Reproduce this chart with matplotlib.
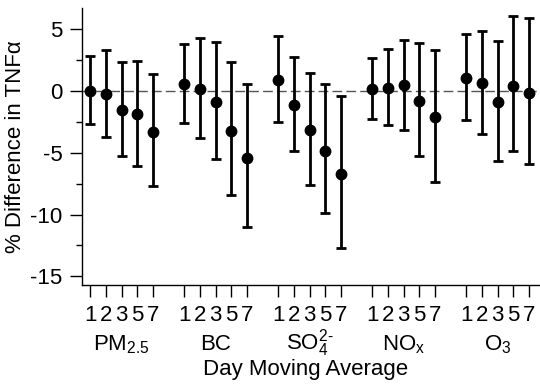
import numpy as np
import matplotlib.pyplot as plt
from matplotlib import transforms

plt.rcParams['font.family'] = ['Liberation Sans', 'DejaVu Sans']
plt.rcParams['mathtext.fontset'] = 'custom'
plt.rcParams['mathtext.rm'] = 'Liberation Sans'
plt.rcParams['mathtext.it'] = 'Liberation Sans'
plt.rcParams['axes.unicode_minus'] = False

# pollutants and day windows
groups = [r"PM$_{2.5}$", "BC", r"SO$_4^{2\text{-}}$", r"NO$_x$", r"O$_3$"]
days = ["1", "2", "3", "5", "7"]

est = [0.0, -0.27, -1.56, -1.86, -3.29,
       0.57, 0.13, -0.89, -3.26, -5.45,
       0.89, -1.13, -3.16, -4.88, -6.72,
       0.16, 0.27, 0.49, -0.78, -2.10,
       1.05, 0.67, -0.92, 0.40, -0.16]
upper = [2.83, 3.30, 2.37, 2.43, 1.38,
         3.78, 4.30, 3.96, 2.32, 0.54,
         4.47, 2.75, 1.48, 0.57, -0.40,
         2.67, 3.40, 4.13, 3.88, 3.32,
         4.64, 4.88, 4.07, 6.04, 5.93]
lower = [-2.67, -3.70, -5.30, -6.04, -7.70,
         -2.62, -3.78, -5.53, -8.39, -10.98,
         -2.51, -4.85, -7.60, -9.90, -12.73,
         -2.24, -2.78, -3.16, -5.26, -7.34,
         -2.35, -3.50, -5.69, -4.88, -5.93]

est = np.array(est)
upper = np.array(upper)
lower = np.array(lower)

x = np.array([g * 6 + d + 1 for g in range(len(groups)) for d in range(len(days))])

fig = plt.figure(figsize=(5.4, 3.88), dpi=100)
ax = fig.add_axes([0.151, 0.2655, 0.849, 0.7135])

ax.axhline(0, color='#555555', lw=1, ls=(0, (7, 3)), zorder=1)
ax.errorbar(x, est, yerr=[est - lower, upper - est], fmt='o', color='black',
            ms=7.5, elinewidth=2, capsize=3.4, capthick=2, zorder=3)

ax.set_xlim(0.45, 29.7)
ax.set_ylim(-15.7, 6.7)
ax.set_yticks([5, 0, -5, -10, -15])
ax.set_yticks([2.5, -2.5, -7.5, -12.5], minor=True)
ax.set_xticks(x)
ax.set_xticklabels(days * len(groups))

for s in ['top', 'right']:
    ax.spines[s].set_visible(False)
ax.spines['left'].set_linewidth(1)
ax.spines['bottom'].set_linewidth(1)

fs = 16
ax.tick_params(axis='y', which='major', length=8.6, width=1, labelsize=fs, pad=5)
ax.tick_params(axis='y', which='minor', length=4.3, width=1)
ax.tick_params(axis='x', length=8.6, width=1, labelsize=fs, pad=6)

trans = transforms.blended_transform_factory(ax.transData, ax.transAxes)
for i, g in enumerate(groups):
    ax.annotate(g, xy=(i * 6 + 3, 0), xycoords=trans, xytext=(0, -46.8),
                textcoords='offset points', ha='center', va='baseline',
                fontsize=fs, annotation_clip=False)

ax.annotate("Day Moving Average", xy=(0.5, 0), xycoords='axes fraction',
            xytext=(-4, -64.8), textcoords='offset points', ha='center',
            va='baseline', fontsize=fs, annotation_clip=False)

ax.set_ylabel("% Difference in TNF\u03b1", fontsize=fs, labelpad=3)

fig.savefig("out.png", dpi=100)
